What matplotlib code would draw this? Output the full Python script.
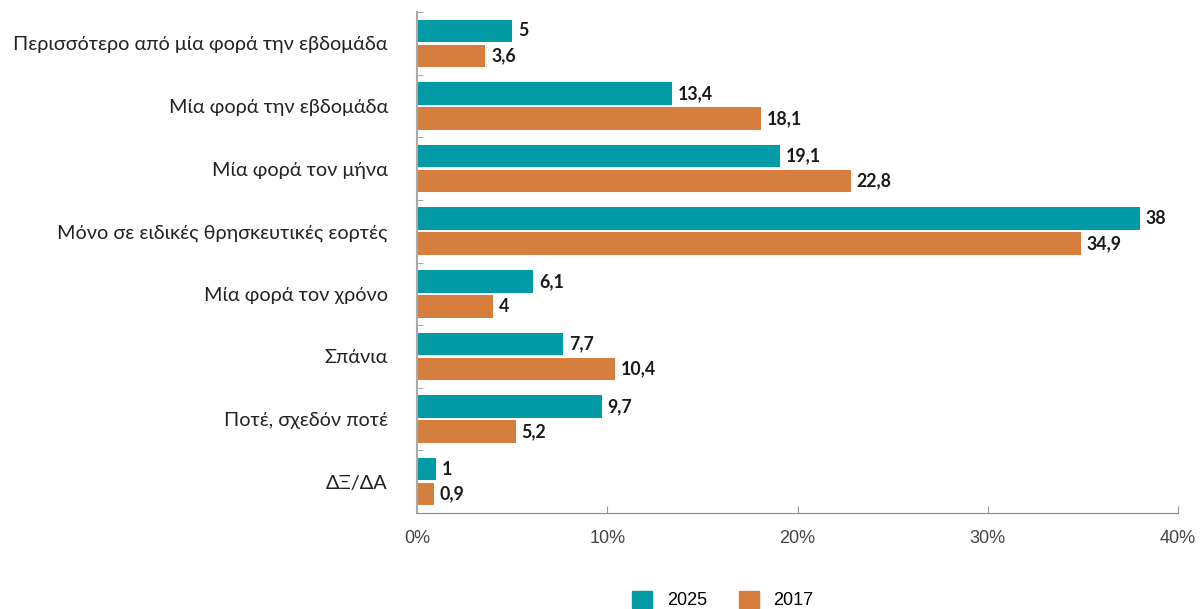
import matplotlib
matplotlib.use("Agg")
import matplotlib.pyplot as plt
import numpy as np
from matplotlib.patches import Patch

categories = ["Περισσότερο από μία φορά την εβδομάδα", "Μία φορά την εβδομάδα",
              "Μία φορά τον μήνα", "Μόνο σε ειδικές θρησκευτικές εορτές",
              "Μία φορά τον χρόνο", "Σπάνια", "Ποτέ, σχεδόν ποτέ", "ΔΞ/ΔΑ"]
values_2025 = [5, 13.4, 19.1, 38, 6.1, 7.7, 9.7, 1]
values_2017 = [3.6, 18.1, 22.8, 34.9, 4, 10.4, 5.2, 0.9]
series_names = ["2025", "2017"]
xticks = [0, 10, 20, 30, 40]

c25 = "#009BA5"
c17 = "#D67E3D"

fig = plt.figure(figsize=(12.01, 6.09), dpi=100)
ax = fig.add_axes([417/1201, 1-513/609, (1178-417)/1201, (513-12)/609])

y = np.arange(len(categories))
h = 0.36
off = 0.2
ax.barh(y - off, values_2025, height=h, color=c25)
ax.barh(y + off, values_2017, height=h, color=c17)

def fmt(v):
    s = f"{v:g}"
    return s.replace(".", ",")

for yi, v in zip(y, values_2025):
    ax.text(v + 0.3, yi - off, fmt(v), va="center", ha="left", fontsize=12.8,
            fontweight="bold", family="Lato", color="#1a1a1a")
for yi, v in zip(y, values_2017):
    ax.text(v + 0.3, yi + off, fmt(v), va="center", ha="left", fontsize=12.8,
            fontweight="bold", family="Lato", color="#1a1a1a")

ax.set_ylim(len(categories) - 0.5, -0.5)
ax.set_xlim(0, 40)
ax.set_yticks(y)
ax.set_yticklabels(categories, fontsize=14.3, family="Lato", color="#222222")
ax.set_yticks(np.arange(len(categories) + 1) - 0.5, minor=True)
ax.tick_params(axis="y", which="major", length=0, pad=21)
ax.tick_params(axis="y", which="minor", length=4, direction="in", color="#999999")
ax.set_xticks(xticks)
ax.set_xticklabels([f"{t}%" for t in xticks], fontsize=13, family="Liberation Sans", color="#444444")
ax.tick_params(axis="x", length=5, direction="in", color="#999999", pad=12)

for s in ["top", "right"]:
    ax.spines[s].set_visible(False)
ax.spines["left"].set_color("#aaaaaa")
ax.spines["left"].set_linewidth(1.5)
ax.spines["bottom"].set_color("#888888")

handles = [Patch(color=c25, label=series_names[0]), Patch(color=c17, label=series_names[1])]
fig.legend(handles=handles, loc="center", bbox_to_anchor=(723/1201, 1-600/609), ncol=2,
           frameon=False, handlelength=1.1, handleheight=1.1,
           columnspacing=1.8, prop={"family": "Liberation Sans", "size": 13})

fig.savefig("out.png", dpi=100)
